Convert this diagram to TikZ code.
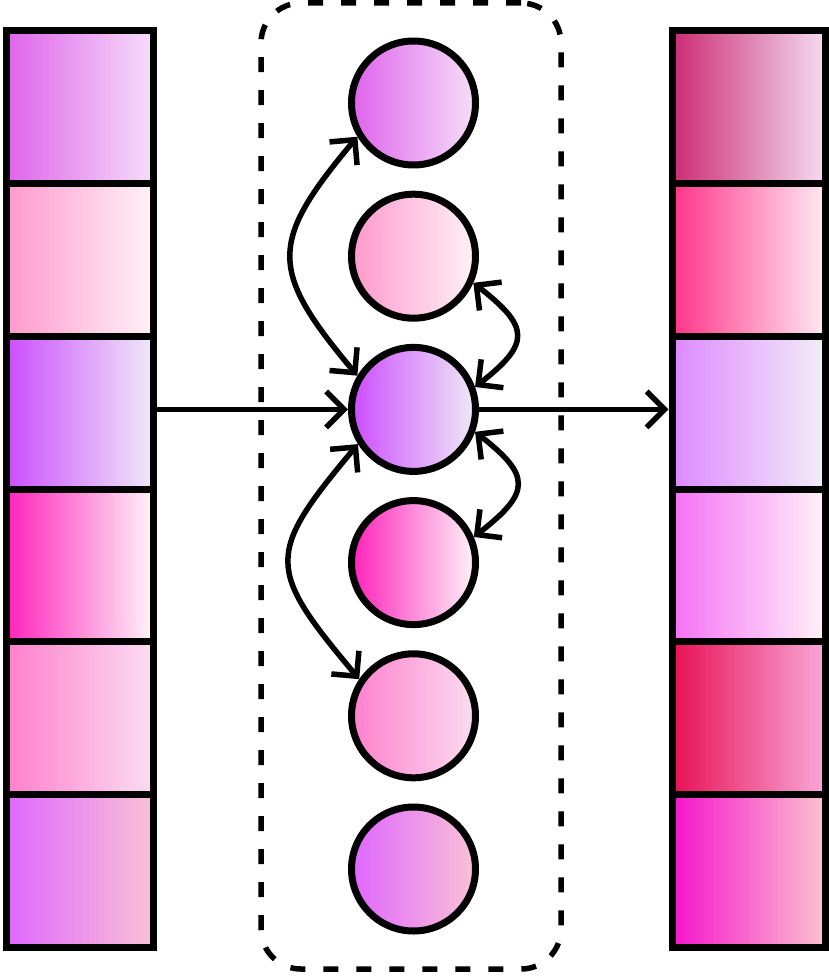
\documentclass[tikz,border=0pt]{standalone}
\usetikzlibrary{arrows.meta}
\definecolor{inlA}{HTML}{DF63EC}\definecolor{inrA}{HTML}{F6DEF8}
\definecolor{inlB}{HTML}{FF99CC}\definecolor{inrB}{HTML}{FFF2F7}
\definecolor{inlC}{HTML}{CC4DFF}\definecolor{inrC}{HTML}{EFEAF6}
\definecolor{inlD}{HTML}{FF22BB}\definecolor{inrD}{HTML}{FFF4F8}
\definecolor{inlE}{HTML}{FF7FCC}\definecolor{inrE}{HTML}{FBDDF2}
\definecolor{inlF}{HTML}{E066FF}\definecolor{inrF}{HTML}{F9C2D6}
\definecolor{outlA}{HTML}{CC2B73}\definecolor{outrA}{HTML}{F3DCF0}
\definecolor{outlB}{HTML}{FF3388}\definecolor{outrB}{HTML}{FFEAF2}
\definecolor{outlC}{HTML}{DD88FF}\definecolor{outrC}{HTML}{F2EEF8}
\definecolor{outlD}{HTML}{F570F5}\definecolor{outrD}{HTML}{FFF2F8}
\definecolor{outlE}{HTML}{E81055}\definecolor{outrE}{HTML}{F8A8D8}
\definecolor{outlF}{HTML}{F514CC}\definecolor{outrF}{HTML}{FCC2D0}
\tikzset{
  barb/.tip={Straight Barb[length=18pt,width=36pt]},
  cell/.style={
    draw,
    line width=7pt,
    minimum width=147pt,
    minimum height=152.7pt,
    inner sep=0pt
  },
  token/.style={
    circle,
    draw,
    line width=7pt,
    minimum size=124pt,
    inner sep=0pt
  },
  group/.style={
    draw,
    line width=5.5pt,
    dash pattern=on 15pt off 18pt,
    rounded corners=40pt,
    minimum width=300pt,
    minimum height=966pt
  },
  link/.style={line width=5.5pt, -barb},
  attn/.style={line width=5.5pt, barb-barb}
}

\begin{document}
\begin{tikzpicture}[x=1pt,y=1pt]
  \useasboundingbox (0,0) rectangle (828,-976);
  \node[group] (grp) at (411,-486) {};
  \foreach \i/\k in {1/A,2/B,3/C,4/D,5/E,6/F} {
    \node[cell, left color=inl\k, right color=inr\k] (in\i) at (79.5,{-107.35-152.7*(\i-1)}) {};
    \node[cell, minimum width=153pt, left color=outl\k, right color=outr\k] (out\i) at (748.5,{-107.35-152.7*(\i-1)}) {};
    \node[token, left color=inl\k, right color=inr\k] (u\i) at (413.5,{-103-153.2*(\i-1)}) {};
  }
  \draw[link] (in3.east |- u3) -- (u3.west);
  \draw[link] (u3.east) -- (u3.east -| out3.west);
  \draw[attn] (u1.211) to[out=230,in=130,looseness=1.48] (u3.149);
  \draw[attn] (u3.212) to[out=230,in=130,looseness=1.57] (u5.146);
  \draw[attn] (u2.336) to[out=-38,in=38,looseness=1.75] (u3.20);
  \draw[attn] (u3.340) to[out=-38,in=38,looseness=1.75] (u4.23);
\end{tikzpicture}
\end{document}
